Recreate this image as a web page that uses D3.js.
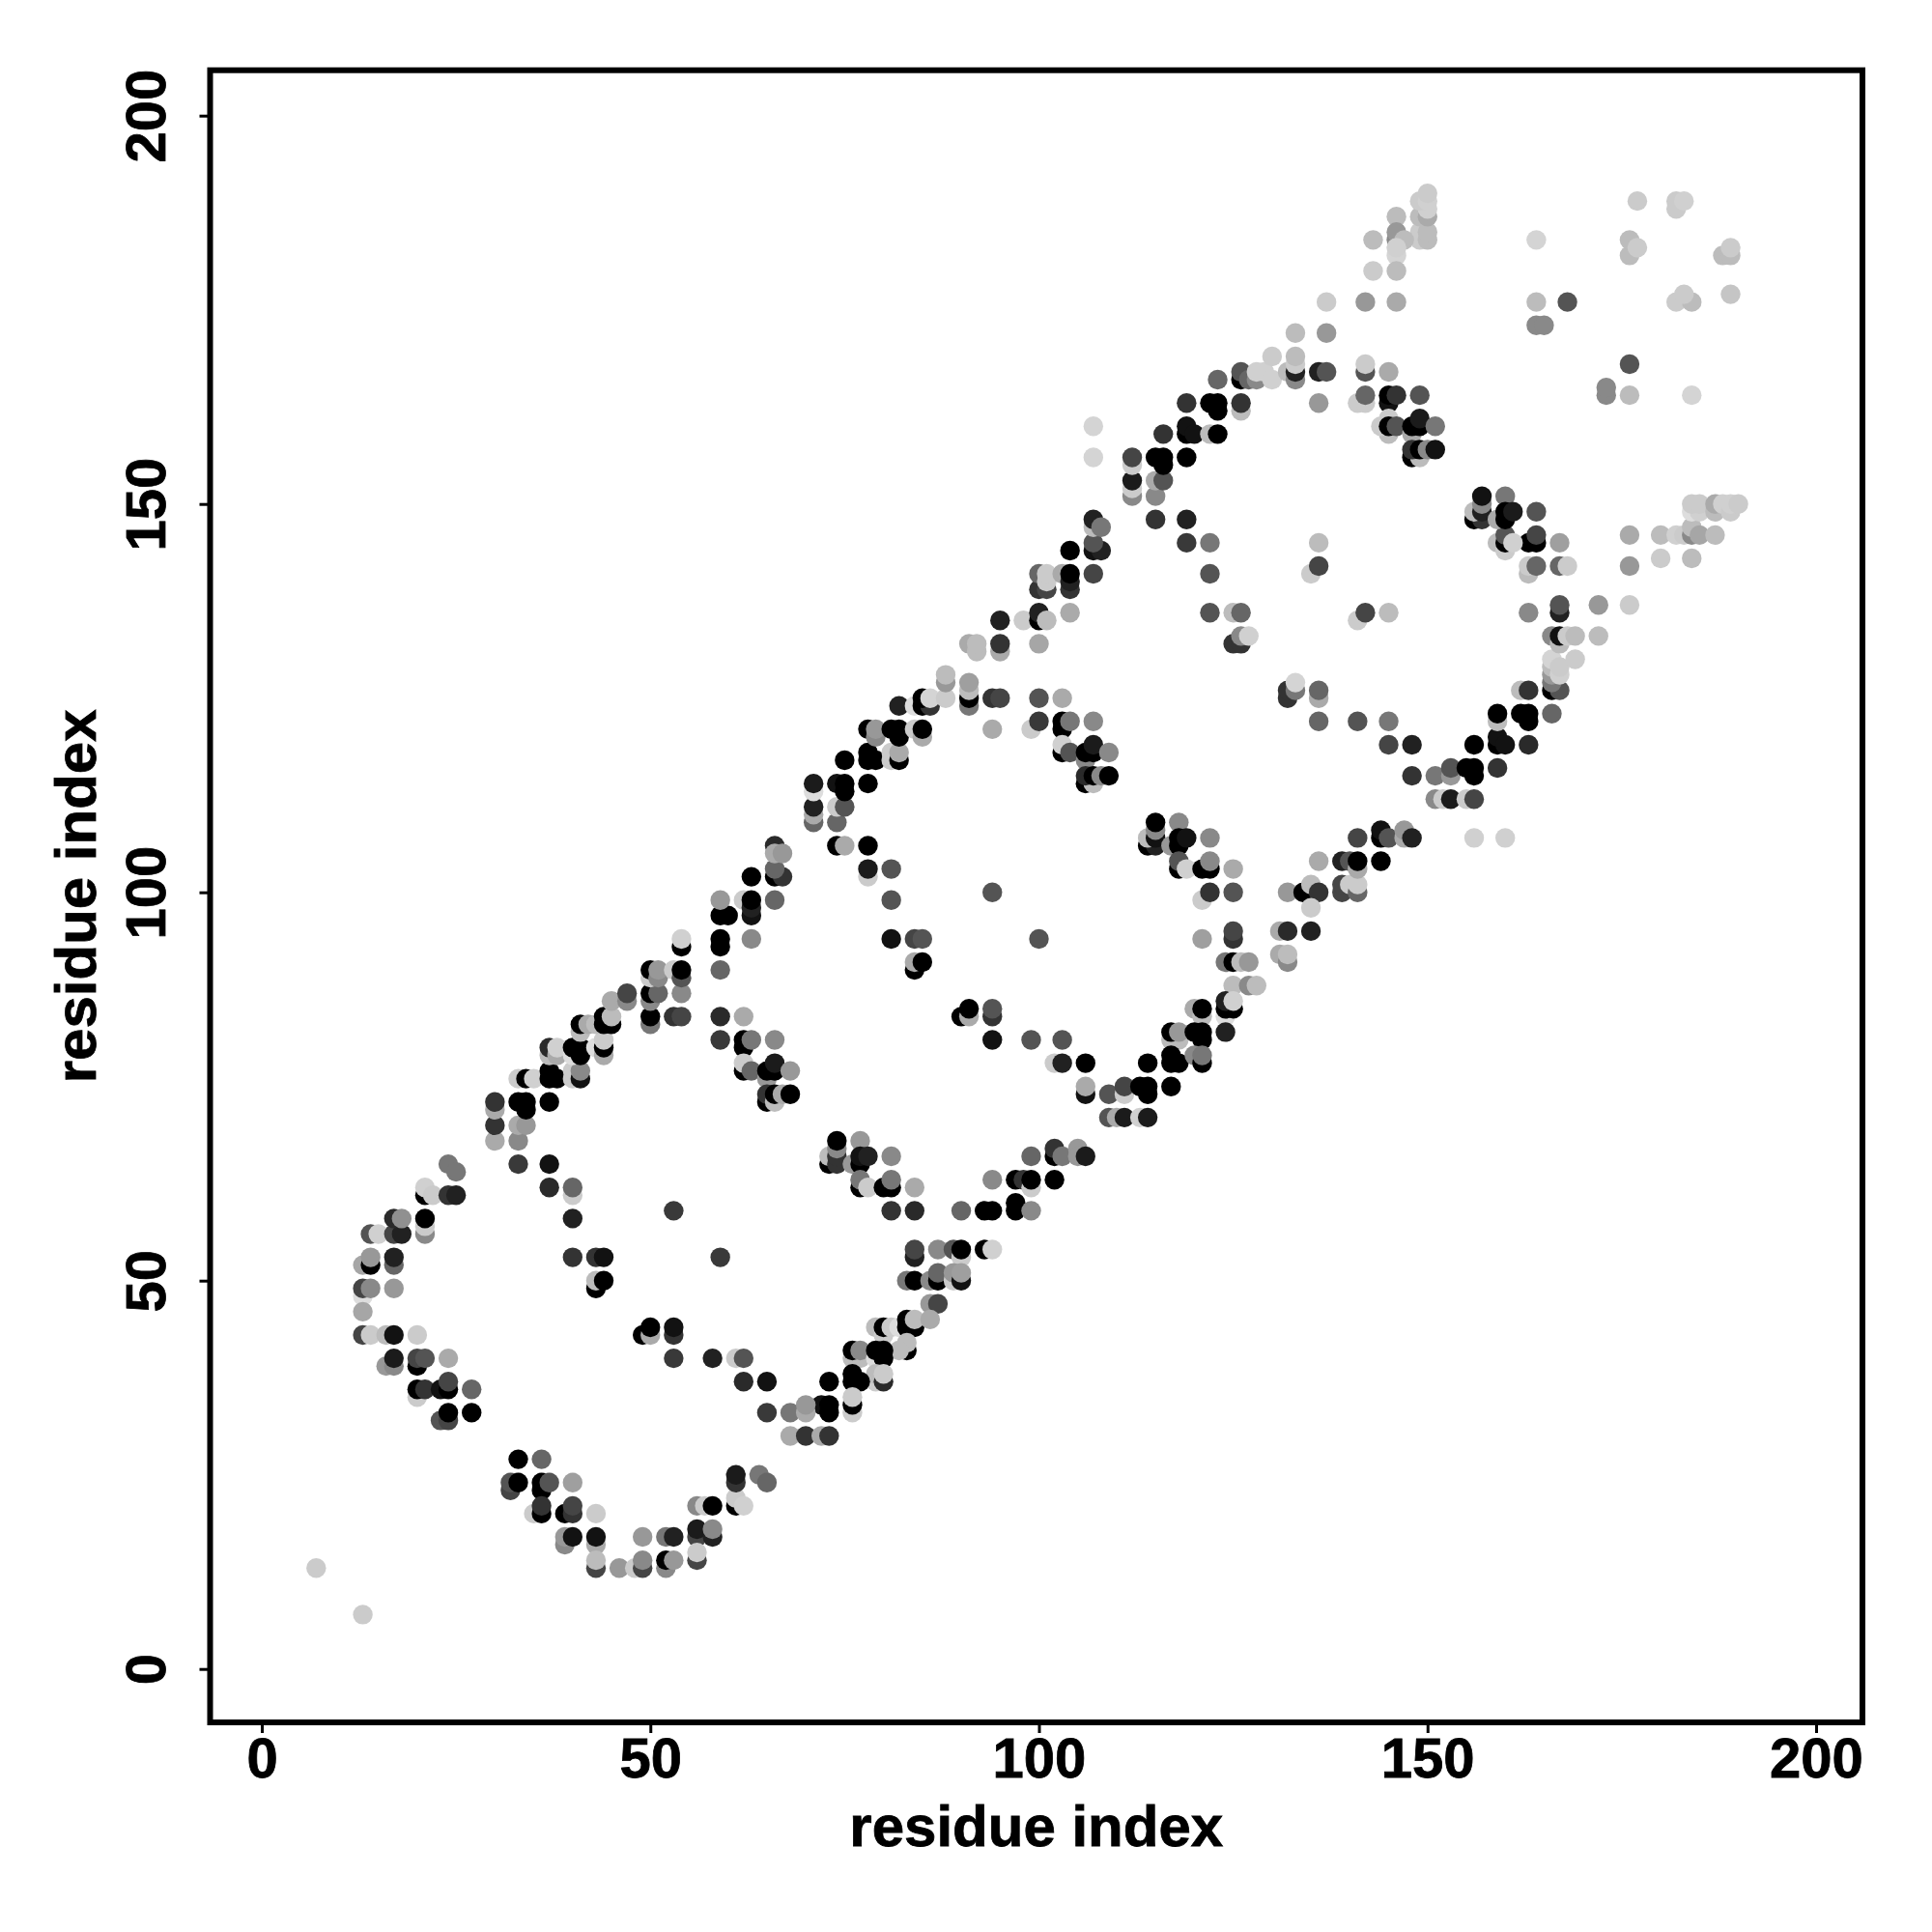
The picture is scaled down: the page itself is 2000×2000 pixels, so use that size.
<!DOCTYPE html>
<html>
<head>
<meta charset="utf-8">
<script src="https://cdn.jsdelivr.net/npm/d3@7"></script>
<style>html,body{margin:0;padding:0;background:#fff}svg{display:block}</style>
</head>
<body>
<div id="chart"></div>
<script>
// each row: residue i, residue j, contact score (0-100)
const tailContacts=[[7,13,8],[13,7,8]];
const loopOneLeft=[[21,56,38],[21,57,8],[21,58,100],[14,56,62],[15,56,6],[17,56,69],[18,56,85],[17,58,81],[18,58,35],
[13,52,25],[14,52,100],[14,53,31],[17,52,54],[17,53,85],[13,48,0],[13,46,25],[13,49,69],[14,49,38],[17,49,31],
[13,43,69],[14,43,8],[16,43,15],[17,43,92],[20,43,8],[16,39,31],[17,39,38],[20,39,100],[17,40,88],[20,40,69],[21,40,62],[24,40,23],
[20,35,8],[20,36,100],[21,36,77],[23,36,92],[24,36,100],[24,37,69],[27,36,54],[23,32,62],[24,32,69],[24,33,100],[27,33,100]];
const loopOneInner=[[40,58,85],[40,53,77],[43,53,77],[44,53,92],[43,49,100],[43,50,15],[44,50,100],[53,59,74],[59,53,74],[49,43,100],[50,43,23],[50,44,100],[53,43,77],[53,44,92],[53,40,74],[58,40,85],[61,40,8],[62,40,62],[62,37,81],[65,37,92],[65,33,74]];
const loopOneArc=[[33,27,100],[36,27,54],[32,23,69],[32,24,62],[33,24,100],[36,23,100],[36,24,100],[37,24,62],[40,24,28],[35,20,8],[36,20,100],[36,21,77],[39,20,100],[40,20,77],[40,21,69],[43,20,8],[39,16,38],[39,17,31],[40,17,92],[43,16,23],[43,17,92],[49,17,31],[52,17,46],[53,17,85],[56,17,69],[56,18,88],[58,17,85],[58,18,38],[43,13,69],[43,14,15],[46,13,31],[48,13,8],[49,13,69],[49,14,38],[52,13,38],[52,14,100],[53,14,31],[56,14,69],[56,15,8],[56,21,38],[57,21,8],[58,21,100],[61,21,100],[61,22,8],[62,21,6],[61,24,77],[61,25,88],[64,25,46],[65,24,54]];
const upperLeftEdge=[[21,61,100],[21,62,6],[22,61,8],[24,61,77],[25,61,85],[24,65,46],[25,64,46],
[30,68,23],[33,68,38],[30,70,77],[33,70,23],[34,70,31],[30,72,23],[30,73,77],[33,73,100],[34,72,100],[34,73,100],[37,73,100],
[33,65,74],[37,65,92],[37,62,81],[40,61,8],[40,62,54],
[33,76,8],[34,76,100],[35,76,6],[37,76,100],[38,76,100],[37,77,100],[40,76,8],[40,77,8],[41,76,92],[41,77,38],
[37,79,15],[37,80,81],[38,79,23],[38,80,6],[40,79,0],[40,80,100],[41,79,100],[41,80,100],[43,80,0],[44,79,23],[44,80,100],[44,81,8],
[41,82,15],[41,83,100],[42,83,23],[43,83,15],[44,83,100],[45,83,100],[44,84,100],[45,84,15],
[45,86,23],[47,86,38],[47,87,69],
[50,83,46],[50,84,100],[53,84,77],[54,84,69],[50,86,38],[50,87,100],[51,87,54],[54,87,38],
[50,89,8],[50,90,100],[51,89,38],[51,90,31],[53,90,8],[54,89,62],[54,90,100],[54,93,100],[54,94,6],
[59,90,54],[59,93,100],[59,94,100],[63,94,38],[59,84,81],[62,84,23],[59,81,74],[62,80,100],[62,81,100],[63,81,46],[66,81,38],
[62,77,100],[62,78,8],[63,77,54],[65,76,31],[65,77,100],[66,77,100],[66,78,88],[68,77,31],
[65,73,100],[65,74,77],[66,73,15],[66,74,100],[67,74,23],[68,74,100],
[59,97,100],[60,97,100],[59,99,31],[62,99,8],[63,97,92],[63,98,85],[63,99,100],[66,99,54],
[63,102,100],[66,102,100],[67,102,77],[66,103,54],[66,106,81],[66,105,23],[67,105,31]];
const loopTwoLeft=[[71,109,54],[71,110,23],[71,111,85],[71,113,0],[71,114,88],
[74,109,54],[74,111,8],[75,111,62],[74,114,92],[75,113,100],[75,114,100],[78,114,100],
[74,106,100],[75,106,23],[78,106,100],
[78,102,8],[78,103,88],[81,103,62],[81,99,62],[81,94,92],[84,94,69],[85,94,62],[84,90,100],[84,91,23],[85,91,100],
[94,100,62],[100,94,62],
[75,117,100],[78,117,100],[78,118,100],[79,117,100],[81,117,8],[81,118,8],[82,117,100],[82,118,23],
[78,121,100],[79,120,38],[79,121,31],[81,121,100],[82,120,100],[82,121,100],[84,121,8],[85,120,23],[85,121,100],
[82,124,85],[84,124,0],[85,124,100],[86,124,77],[85,125,100],[86,125,4],
[88,125,8],[88,127,31],[88,128,15],
[91,124,46],[91,125,100],[91,126,15],[91,127,28],
[94,125,77],[95,125,69],[100,125,62],[103,125,23],
[91,132,23],[92,131,15],[92,132,15],[95,131,23],[95,132,77],[95,135,85],[98,135,8],[100,132,25],[100,135,100],[100,136,85],[101,135,15],[104,136,23],
[100,139,77],[101,139,69],[100,141,54],[101,140,8],[101,141,8],[103,141,23],[104,139,77],[104,140,85],[104,141,100],[107,141,69],[104,144,100],[107,144,92],[108,144,85],[107,145,62],[107,147,15],[107,148,85],[108,147,46]];
const loopTwoRight=[[99,121,8],[100,122,74],[94,121,23],[103,121,100],[103,122,100],[104,122,46],[107,122,38],
[103,118,100],[103,119,6],[104,118,62],[106,117,38],[106,118,100],[107,118,100],[107,119,88],[109,118,38],
[106,114,100],[107,114,15],[106,115,81],[107,115,100],[108,115,38],[109,115,100],
[114,106,100],[115,106,85],[114,107,15],[115,107,92],[115,108,38],[115,109,100],[118,109,38],[117,106,31],[118,106,100],[118,107,100],[119,107,92],[122,107,38],
[118,103,100],[118,104,62],[119,103,6],[121,103,100],[122,103,100],[122,104,38],[125,103,23],
[121,99,8],[122,100,77],[125,100,62],[132,100,31],
[121,94,28],[125,94,77],[125,95,69],[131,95,23],[132,95,81],[135,95,85],
[124,91,46],[125,91,100],[126,91,15],[127,91,31],[131,92,23],[132,91,38],[132,92,15],
[125,88,15],[127,88,38],[128,88,15],
[124,84,0],[124,85,100],[125,85,100],[124,86,85],[125,86,6],[120,85,23],[121,84,15],[121,85,100],
[117,81,15],[118,81,15],[117,82,100],[118,82,31],[120,82,100],[121,81,100],[121,82,100],[124,82,85],
[114,78,100],[117,78,100],[117,79,100],[118,78,100],[120,79,38],[121,78,100],[121,79,46],
[90,84,100],[91,84,23],[91,85,100],[94,84,77],[94,85,62],
[94,81,92],[99,81,62],[103,81,62],
[102,78,8],[103,78,85],[106,78,100]];
const loopTwoUpperBand=[[134,100,100],[135,101,15],[136,100,77],[135,98,8],[136,104,23],[139,100,69],[139,101,69],[140,101,8],[141,100,54],[141,101,8],
[139,104,85],[140,104,62],[141,103,23],[141,104,100],[144,104,100],
[141,107,69],[144,107,100],[144,108,92],[145,107,62],[147,107,23],[147,108,31],[148,107,85]];
const lowerBand=[[106,74,92],[106,75,23],[109,74,62],[111,74,8],[111,75,69],[114,74,100],[113,75,100],[114,75,100],[117,75,100],
[109,71,62],[110,71,23],[111,71,88],[113,71,6],[114,71,88],
[73,65,100],[73,66,15],[74,65,77],[74,66,77],[74,67,38],[74,68,100],[77,68,31],[76,65,31],[77,65,100],[77,66,92],[78,66,85],[81,66,38],
[77,62,100],[77,63,46],[78,62,8],[80,62,100],[81,62,100],[81,63,46],[84,62,23],
[81,59,77],[84,59,81],[90,59,54],[93,59,100],[94,59,100],[97,59,100],[97,60,100],[99,59,38],
[94,63,38],[97,63,100],[98,63,77],[99,62,8],[99,63,100],[102,63,100],
[99,66,54],[102,66,100],[102,67,77],[103,66,46],[105,67,31],[105,66,31],[106,66,88],
[84,53,85],[84,54,69],[87,54,38],[89,54,62],[90,53,8],[90,54,100],[93,54,100],[94,54,6],
[83,50,46],[84,50,100],[86,50,38],[87,50,100],[87,51,54],[89,50,8],[89,51,31],[90,50,92],[90,51,28],
[86,47,31],[87,47,69],
[79,44,15],[80,43,8],[80,44,100],[81,44,8],[82,44,0],[83,44,100],[83,45,100],[84,44,100],[84,45,15],[86,45,23],
[83,41,100],[83,42,15],[82,41,15],[76,40,15],[77,40,15],[76,41,100],[77,41,38],[79,40,0],[79,41,100],[80,40,100],[80,41,100],
[79,37,8],[79,38,15],[80,37,81],[80,38,8],[73,37,100],[76,37,100],[77,37,100],[76,38,100],
[76,33,8],[76,34,100],[76,35,8],[72,34,92],[73,33,100],[73,34,100],
[68,30,23],[68,33,46],[70,30,77],[70,33,23],[70,34,31],[72,30,23],[73,30,77]];
const loopThreeTop=[[107,160,4],[107,156,4],[112,151,38],[112,152,8],[112,153,88],[112,155,8],[112,156,69],[115,151,38],[115,153,23],[116,153,62],[115,156,100],[116,155,100],[116,156,100],[119,156,100],
[115,148,77],[119,148,85],[119,145,74],[122,145,46],[122,141,62],[122,136,62],[125,136,15],[126,136,54],[125,132,77],[126,132,77],[126,133,38],[127,133,6],
[116,159,77],[119,159,100],[119,160,92],[120,159,92],[122,159,15],[123,159,100],
[119,163,77],[122,163,100],[123,162,100],[123,163,100],[126,162,15],[126,163,77],
[123,166,54],[126,166,100],[126,167,62],[127,166,54],[128,166,38],[128,167,6],[129,167,6],[130,166,6],[130,169,8],
[132,167,15],[133,166,38],[133,167,85],[133,168,8],[133,169,15],[133,172,15],[136,167,85],[137,167,62],[137,172,31],[137,176,8],[142,176,31],[146,176,23],
[136,163,31],[142,167,62],[142,168,8],[145,167,23],[141,163,8],[142,163,8],[142,164,54],[145,163,92],[145,164,100],[146,164,77],[149,164,62],
[145,159,15],[144,160,8],[145,161,8],[145,160,100],[146,160,62],[148,159,23],[148,160,100],[149,160,100],[149,161,88],[151,160,46],
[148,156,100],[149,156,15],[148,157,77],[149,157,100],[150,157,38],[151,157,92]];
const loopThreeRight=[[136,145,15],[135,141,8],[136,142,69],[141,135,8],[142,136,69],[145,136,15],
[132,125,77],[132,126,77],[133,126,46],[133,127,4],[136,125,23],[136,126,54],[136,122,54],[141,122,62],[145,122,46],[145,119,69],[148,119,85],
[148,115,77],[151,115,46],[153,115,31],[153,116,62],[155,116,100],[156,115,100],[156,116,100],[159,116,77],
[151,112,38],[152,112,8],[153,112,88],[155,112,8],[156,112,69],
[156,119,100],[159,119,100],[159,120,92],[160,119,92],[163,119,81],
[159,122,15],[159,123,100],[162,123,100],[163,122,100],[163,123,100],[166,123,54],
[162,126,15],[163,126,77],[166,126,100],[167,126,62],[166,127,46],[166,128,31],[166,129,15],[166,130,4],[167,128,6],[167,129,8],[169,130,8],
[166,133,38],[167,132,15],[167,133,92],[168,133,8],[169,133,15],[172,133,15],
[167,136,85],[167,137,62],[163,136,38],[172,137,31],[176,137,8],
[167,142,54],[168,142,8],[163,141,15],[163,142,8],[164,142,54],[176,142,31],[176,146,23],
[167,145,28],[163,145,100],[164,145,100],[164,146,69],
[159,145,15],[160,144,8],[160,145,100],[160,146,62],[161,145,6],
[164,149,62],[160,151,46],
[156,148,100],[157,148,77],[156,149,15],[157,149,85],[157,150,38],[157,151,92],[159,148,23],[160,148,100],[160,149,100],[161,149,88]];
const upperRight=[[180,146,15],[182,146,6],[183,146,8],[184,146,38],[184,147,15],[185,146,25],[187,146,15],[180,143,8],[184,143,15],
[184,149,0],[185,149,6],[184,150,8],[185,150,8],[187,149,15],[187,150,23],[188,150,6],[189,149,8],[189,150,6],[190,150,8],
[156,107,6],[160,107,6],
[149,184,8],[149,185,8],[150,184,15],[150,185,15],[149,187,15],[150,187,23],[150,188,6],[149,189,8],[150,189,6],[150,190,8],[146,187,15],
[143,184,15],[146,184,38],[146,185,31],[147,184,15],[146,182,4],[146,183,6],[143,180,8],[146,180,15],
[164,184,4],[164,176,15],[168,176,62],[164,173,38],[165,173,38],[176,168,62],[173,164,38],[173,165,38],[176,164,15],[184,164,4],
[177,189,8],[182,188,8],[182,189,8],[183,189,6],[176,182,15],[176,184,15],[177,183,8],
[188,182,15],[189,182,15],[189,183,8],[182,176,8],[184,176,15],[183,177,8],[189,177,11]];
const xTicks=[0,50,100,150,200];
const yTicks=[0,50,100,150,200];
const xTitle="residue index";
const yTitle="residue index";

const contacts=[].concat(tailContacts,loopOneLeft,loopOneInner,loopOneArc,upperLeftEdge,loopTwoLeft,loopTwoRight,loopTwoUpperBand,lowerBand,loopThreeTop,loopThreeRight,upperRight);

const W=2000,H=2000;
const box={left:217.5,right:1928,top:72.7,bottom:1783};
const x=d3.scaleLinear().domain([0,200]).range([271,1880]);
const y=d3.scaleLinear().domain([0,200]).range([1727.7,119.7]);
const shade=d3.scaleLinear().domain([0,100]).range([221,0]);
const font='"Liberation Sans", Arial, sans-serif';

const svg=d3.select("#chart").append("svg").attr("width",W).attr("height",H).attr("viewBox",`0 0 ${W} ${H}`);
svg.append("rect").attr("width",W).attr("height",H).attr("fill","#fff");

svg.append("g").selectAll("circle").data(contacts).join("circle")
  .attr("cx",d=>x(d[0])).attr("cy",d=>y(d[1])).attr("r",10.2)
  .attr("fill",d=>{const g=Math.round(shade(d[2]));return `rgb(${g},${g},${g})`;});

svg.append("rect").attr("x",box.left).attr("y",box.top)
  .attr("width",box.right-box.left).attr("height",box.bottom-box.top)
  .attr("fill","none").attr("stroke","#000").attr("stroke-width",6);

const gx=svg.append("g").attr("transform",`translate(0,${box.bottom})`)
  .call(d3.axisBottom(x).tickValues(xTicks).tickSize(11).tickPadding(0).tickFormat(d3.format("d")));
gx.select(".domain").remove();
gx.selectAll("line").attr("stroke","#000").attr("stroke-width",3);
gx.selectAll("text").attr("y",57).attr("dy",0).attr("fill","#000").attr("stroke","#000").attr("stroke-width",0.8)
  .style("font",`bold 58px ${font}`);

const gy=svg.append("g").attr("transform",`translate(${box.left},0)`)
  .call(d3.axisLeft(y).tickValues(yTicks).tickSize(11).tickPadding(0).tickFormat(d3.format("d")));
gy.select(".domain").remove();
gy.selectAll("line").attr("stroke","#000").attr("stroke-width",3);
gy.selectAll("text").attr("x",0).attr("y",0).attr("dy",0).attr("text-anchor","middle")
  .attr("transform","translate(-46.5,0) rotate(-90)").attr("fill","#000").attr("stroke","#000").attr("stroke-width",0.8)
  .style("font",`bold 58px ${font}`);

svg.append("text").attr("x",(box.left+box.right)/2).attr("y",1911).attr("text-anchor","middle")
  .attr("fill","#000").attr("stroke","#000").attr("stroke-width",0.8).style("font",`bold 60px ${font}`).text(xTitle);
svg.append("text").attr("transform",`translate(99,${(box.top+box.bottom)/2}) rotate(-90)`).attr("text-anchor","middle")
  .attr("fill","#000").attr("stroke","#000").attr("stroke-width",0.8).style("font",`bold 60px ${font}`).text(yTitle);
</script>
</body>
</html>
